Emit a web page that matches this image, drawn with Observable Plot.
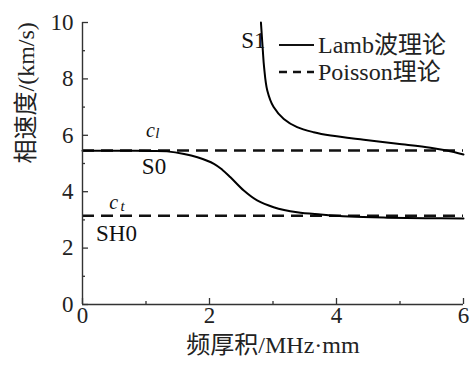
<!DOCTYPE html>
<html><head><meta charset="utf-8">
<script src="https://cdn.jsdelivr.net/npm/d3@7"></script>
<script src="https://cdn.jsdelivr.net/npm/@observablehq/plot@0.6"></script>
<style>
body{margin:0;background:#fff}
#wrap{position:relative;width:473px;height:365px}
#wrap svg.legend{position:absolute;left:0;top:0;pointer-events:none}
#wrap svg, #wrap svg text{font-family:"Liberation Serif","Noto Sans CJK SC",serif !important}
</style>
</head><body><div id="wrap"></div>
<script>
// ---- data ----
const s0X = [0, 0.5, 0.8, 1.1, 1.33, 1.6, 1.81, 2.07, 2.2, 2.33, 2.54, 2.75, 3.01, 3.38, 3.75, 4.2, 4.8, 5.4, 6.0];
const s0Y = [5.45, 5.45, 5.45, 5.445, 5.43, 5.34, 5.22, 4.99, 4.78, 4.51, 4.04, 3.69, 3.45, 3.27, 3.19, 3.12, 3.08, 3.06, 3.05];
const s1X = [2.81, 2.825, 2.84, 2.86, 2.91, 3.01, 3.17, 3.38, 3.64, 3.91, 4.43, 4.96, 5.48, 5.74, 6.0];
const s1Y = [10, 9.5, 9.0, 8.41, 7.59, 7.0, 6.58, 6.29, 6.11, 5.99, 5.84, 5.70, 5.56, 5.46, 5.32];
const clSpeed = 5.46;
const ctSpeed = 3.15;
const xTicks = [0, 2, 4, 6];
const xMinor = [1, 3, 5];
const yTicks = [0, 2, 4, 6, 8, 10];
const yMinor = [1, 3, 5, 7, 9];
const xLabel = "频厚积/MHz·mm";
const yLabel = "相速度/(km/s)";
const legendLabels = ["Lamb波理论", "Poisson理论"];
const modeNames = ["S1", "S0", "SH0"];
const modeAt = [[2.69, 9.36], [1.126, 4.88], [0.535, 2.50]];
const speedSymbols = ["c", "c"];
const speedSubs = ["l", "t"];
const speedSymAt = [[1.07, 6.15], [0.49, 3.63]];
const speedSubAt = [[1.18, 6.06], [0.63, 3.50]];

// ---- build ----
const FONT = "Liberation Serif, Noto Sans CJK SC, serif";
const s0 = s0X.map((x, i) => ({x, y: s0Y[i]}));
const s1 = s1X.map((x, i) => ({x, y: s1Y[i]}));
const modes = modeNames.map((t, i) => ({t, x: modeAt[i][0], y: modeAt[i][1]}));
const syms = speedSymbols.map((t, i) => ({t, x: speedSymAt[i][0], y: speedSymAt[i][1]}));
const subs = speedSubs.map((t, i) => ({t, x: speedSubAt[i][0], y: speedSubAt[i][1]}));
const AX = "#333";

const chart = Plot.plot({
  width: 473, height: 365,
  marginLeft: 82, marginRight: 10, marginTop: 22, marginBottom: 61,
  x: {domain: [0, 6], axis: null},
  y: {domain: [0, 10], axis: null},
  style: {fontFamily: FONT, fontSize: "23px", color: "black", background: "white", overflow: "visible"},
  marks: [
    Plot.ruleY([clSpeed, ctSpeed], {stroke: "#111", strokeWidth: 2.5, strokeDasharray: "12,7"}),
    Plot.line(s0, {x: "x", y: "y", curve: "catmull-rom", stroke: "black", strokeWidth: 2}),
    Plot.line(s1, {x: "x", y: "y", curve: "catmull-rom", stroke: "black", strokeWidth: 2}),
    // axes lines
    Plot.ruleX([0], {stroke: AX, strokeWidth: 1.4}),
    Plot.ruleY([0], {stroke: AX, strokeWidth: 1.4}),
    // inward ticks
    Plot.tickX(xTicks, {x: d => d, insetTop: 276, stroke: AX, strokeWidth: 1.3}),
    Plot.tickX(xMinor, {x: d => d, insetTop: 279, stroke: AX, strokeWidth: 1.3}),
    Plot.tickY(yTicks, {y: d => d, insetRight: 375, stroke: AX, strokeWidth: 1.3}),
    Plot.tickY(yMinor, {y: d => d, insetRight: 378, stroke: AX, strokeWidth: 1.3}),
    // tick labels
    Plot.text(xTicks, {x: d => d, frameAnchor: "bottom", dy: 18.5, text: d => String(d), fontSize: 23, fill: "#222"}),
    Plot.text(yTicks, {y: d => d, frameAnchor: "left", dx: -9, textAnchor: "end", text: d => String(d), fontSize: 23, fill: "#222"}),
    // axis labels
    Plot.text([xLabel], {frameAnchor: "bottom", dy: 48, text: d => d, fontSize: 24, fill: "#222"}),
    Plot.text([yLabel], {frameAnchor: "left", dx: -56, rotate: -90, text: d => d, fontSize: 24, fill: "#222"}),
    // annotations
    Plot.text(modes, {x: "x", y: "y", text: "t", fontSize: 23, fill: "#111"}),
    Plot.text(syms, {x: "x", y: "y", text: "t", fontSize: 20, fontStyle: "italic", fill: "#111"}),
    Plot.text(subs, {x: "x", y: "y", text: "t", fontSize: 15, fontStyle: "italic", fill: "#111"})
  ]
});
const wrap = document.getElementById("wrap");
wrap.appendChild(chart);

// legend overlay
const leg = d3.select(wrap).append("svg").attr("class", "legend").attr("width", 473).attr("height", 365);
const dashes = [null, "8,6"];
const ly = [45, 72];
legendLabels.forEach((lab, i) => {
  leg.append("line").attr("x1", 279).attr("x2", 314).attr("y1", ly[i]).attr("y2", ly[i])
    .attr("stroke", "#111").attr("stroke-width", i ? 2.5 : 2).attr("stroke-dasharray", dashes[i]);
  leg.append("text").attr("x", 318).attr("y", ly[i] + 8)
    .attr("font-size", 24).attr("fill", "#222").text(lab);
});
</script>
</body></html>
